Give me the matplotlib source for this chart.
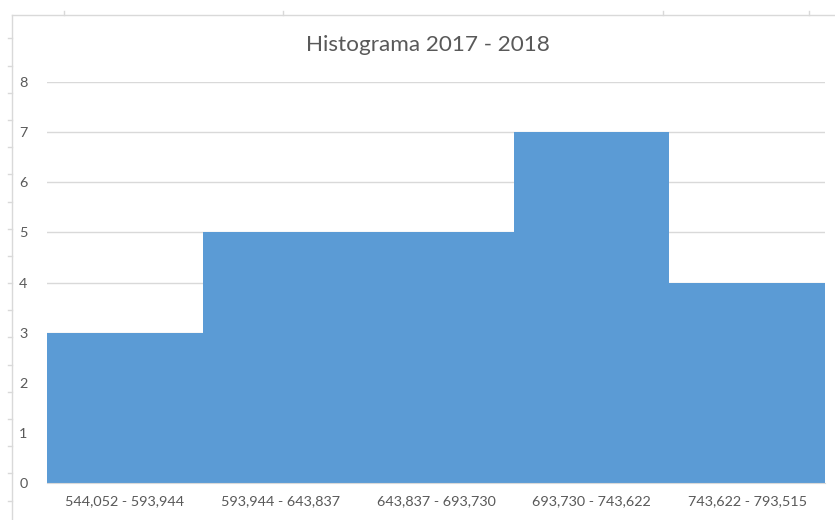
import matplotlib.pyplot as plt
from matplotlib.lines import Line2D

# histogram bins (class ranges) and frequencies
bin_labels = ['544,052 - 593,944', '593,944 - 643,837', '643,837 - 693,730',
              '693,730 - 743,622', '743,622 - 793,515']
counts = [3, 5, 5, 7, 4]

TEXT = '#595959'
GRID = '#D9D9D9'
BAR = '#5B9BD5'

plt.rcParams['font.family'] = ['Lato', 'DejaVu Sans']

W, H = 835, 520
fig = plt.figure(figsize=(W / 100, H / 100), dpi=100)

# chart area border and the spreadsheet marks around it
fig.add_artist(Line2D([12 / W, 1], [1 - 15 / H, 1 - 15 / H], color=GRID, lw=1))
fig.add_artist(Line2D([12 / W, 12 / W], [0, 1 - 15 / H], color=GRID, lw=1))
for xp in [64, 283, 663, 809]:
    fig.add_artist(Line2D([xp / W, xp / W], [1 - 11 / H, 1 - 15 / H], color=GRID, lw=1))
yp = 38.3
while yp < H:
    fig.add_artist(Line2D([8 / W, 12 / W], [1 - yp / H, 1 - yp / H], color=GRID, lw=1))
    yp += 27.2

ax = fig.add_axes([47 / W, 1 - 483 / H, (825 - 47) / W, (483 - 82) / H])
x = list(range(len(counts)))
ax.bar(x, counts, width=1.0, color=BAR, zorder=2)
ax.set_xlim(-0.5, len(counts) - 0.5)
ax.set_ylim(0, 8)
ax.set_yticks(range(0, 9))
ax.set_xticks(x)
ax.set_xticklabels(bin_labels)
ax.grid(axis='y', color=GRID, lw=1, zorder=0)
for s in ['top', 'right', 'left']:
    ax.spines[s].set_visible(False)
ax.spines['bottom'].set_color(GRID)
ax.tick_params(axis='both', length=0, colors=TEXT, labelsize=10.4)
ax.tick_params(axis='y', pad=14)
ax.tick_params(axis='x', pad=9)

fig.text(428 / W, 1 - 45 / H, 'Histograma 2017 - 2018', ha='center', va='center',
         color=TEXT, fontsize=16.2)

fig.savefig('out.png', dpi=100, facecolor='white')
